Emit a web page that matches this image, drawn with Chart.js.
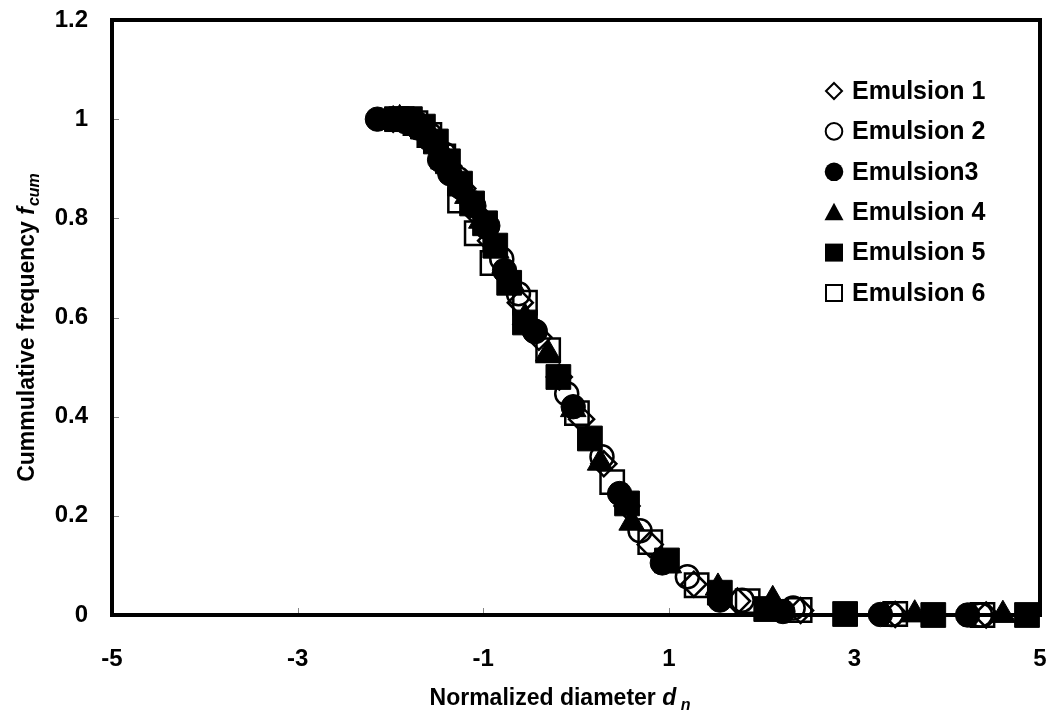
<!DOCTYPE html>
<html><head><meta charset="utf-8">
<script src="https://cdn.jsdelivr.net/npm/chart.js@4.4.1/dist/chart.umd.min.js"></script>
<style>html,body{margin:0;padding:0;background:#fff;}#wrap{width:1051px;height:720px;position:relative;}</style>
</head><body><div id="wrap"><canvas id="c" width="1051" height="720"></canvas></div>
<script>
// ---- data ----
const seriesNames = ['Emulsion 1', 'Emulsion 2', 'Emulsion3', 'Emulsion 4', 'Emulsion 5', 'Emulsion 6'];
const xTicks = [-5, -3, -1, 1, 3, 5];
const xTickLabels = ['-5', '-3', '-1', '1', '3', '5'];
const yTicks = [0, 0.2, 0.4, 0.6, 0.8, 1, 1.2];
const yTickLabels = ['0', '0.2', '0.4', '0.6', '0.8', '1', '1.2'];

const e1X = [-1.97,-1.82,-1.67,-1.52,-1.37,-1.22,-1.07,-0.92,-0.76,-0.60,-0.40,-0.18,0.06,0.30,0.55,0.80,1.27,1.74,2.42,3.44,4.42];
const e1Y = [1.000,0.995,0.978,0.945,0.905,0.860,0.810,0.755,0.690,0.630,0.560,0.480,0.395,0.305,0.220,0.142,0.062,0.028,0.009,0.001,0.000];

const e2X = [-1.87,-1.72,-1.57,-1.42,-1.27,-1.12,-0.96,-0.80,-0.62,-0.44,-0.10,0.28,0.69,1.20,1.79,2.34,3.40,4.36];
const e2Y = [1.000,0.992,0.968,0.930,0.880,0.832,0.782,0.718,0.648,0.572,0.446,0.319,0.170,0.077,0.030,0.014,0.001,0.000];

const e3X = [-2.14,-1.98,-1.84,-1.70,-1.58,-1.47,-1.36,-1.24,-1.10,-0.95,-0.77,-0.45,-0.03,0.47,0.93,1.55,2.23,3.28,4.22];
const e3Y = [1.000,1.000,0.995,0.982,0.960,0.918,0.890,0.862,0.825,0.785,0.695,0.573,0.420,0.245,0.105,0.030,0.007,0.001,0.000];

const e4X = [-1.90,-1.75,-1.60,-1.45,-1.31,-1.17,-1.02,-0.86,-0.70,-0.55,-0.30,-0.03,0.26,0.60,1.00,1.53,2.12,3.65,4.60];
const e4Y = [1.000,0.995,0.975,0.938,0.890,0.845,0.795,0.735,0.670,0.600,0.527,0.415,0.307,0.186,0.100,0.055,0.030,0.001,0.000];

const e5X = [-1.93,-1.79,-1.65,-1.51,-1.38,-1.25,-1.12,-0.98,-0.87,-0.72,-0.55,-0.19,0.15,0.55,0.98,1.55,2.05,2.90,3.85,4.86];
const e5Y = [1.000,1.000,0.985,0.955,0.915,0.870,0.830,0.790,0.745,0.670,0.590,0.480,0.356,0.225,0.110,0.045,0.012,0.002,0.000,0.000];

const e6X = [-1.88,-1.73,-1.58,-1.43,-1.25,-1.07,-0.90,-0.55,-0.30,0.01,0.39,0.80,1.30,1.85,2.41,3.44,4.38];
const e6Y = [1.000,0.992,0.968,0.925,0.836,0.770,0.710,0.630,0.534,0.407,0.268,0.147,0.060,0.028,0.010,0.002,0.000];

// ---- build ----
const FONT = '"Liberation Sans", Arial, Helvetica, sans-serif';
const seriesX = [e1X, e2X, e3X, e4X, e5X, e6X];
const seriesY = [e1Y, e2Y, e3Y, e4Y, e5Y, e6Y];
const styles = [
  {pointStyle: 'rectRot', radius: 12.5, fill: 'rgba(0,0,0,0)', bw: 2.5},
  {pointStyle: 'circle', radius: 11.5, fill: 'rgba(0,0,0,0)', bw: 2.5},
  {pointStyle: 'circle', radius: 12.2, fill: '#000', bw: 1},
  {pointStyle: 'triangle', radius: 14.8, fill: '#000', bw: 1},
  {pointStyle: 'rect', radius: 17.5, fill: '#000', bw: 1},
  {pointStyle: 'rect', radius: 16.5, fill: 'rgba(0,0,0,0)', bw: 2.5}
];
const datasets = seriesNames.map((name, i) => ({
  label: name,
  data: seriesX[i].map((x, j) => ({x: x, y: seriesY[i][j]})),
  showLine: false,
  pointStyle: styles[i].pointStyle,
  pointRadius: styles[i].radius,
  pointHoverRadius: styles[i].radius,
  pointBackgroundColor: styles[i].fill,
  pointBorderColor: '#000',
  pointBorderWidth: styles[i].bw,
  order: 6 - i,
  clip: false
}));

const framePlugin = {
  id: 'frame',
  beforeDatasetsDraw(chart) {
    const {ctx, chartArea: a, scales} = chart;
    ctx.save();
    ctx.strokeStyle = '#888';
    ctx.lineWidth = 1;
    scales.y.ticks.forEach(t => {
      const py = Math.round(scales.y.getPixelForValue(t.value)) + 0.5;
      ctx.beginPath(); ctx.moveTo(a.left, py); ctx.lineTo(a.left + 7, py); ctx.stroke();
    });
    scales.x.ticks.forEach(t => {
      const px = Math.round(scales.x.getPixelForValue(t.value)) + 0.5;
      ctx.beginPath(); ctx.moveTo(px, a.bottom); ctx.lineTo(px, a.bottom - 7); ctx.stroke();
    });
    ctx.strokeStyle = '#000';
    ctx.lineWidth = 4;
    ctx.strokeRect(a.left, a.top, a.right - a.left, a.bottom - a.top);
    ctx.restore();
  }
};

function drawMarker(ctx, kind, cx, cy) {
  ctx.beginPath();
  ctx.lineWidth = 2;
  ctx.strokeStyle = '#000';
  ctx.fillStyle = '#000';
  if (kind === 0) {
    const h = 8;
    ctx.moveTo(cx, cy - h); ctx.lineTo(cx + h, cy); ctx.lineTo(cx, cy + h); ctx.lineTo(cx - h, cy); ctx.closePath(); ctx.stroke();
  } else if (kind === 1) {
    ctx.arc(cx, cy, 8.3, 0, Math.PI * 2); ctx.stroke();
  } else if (kind === 2) {
    ctx.arc(cx, cy, 9.3, 0, Math.PI * 2); ctx.fill();
  } else if (kind === 3) {
    ctx.moveTo(cx, cy - 9.5); ctx.lineTo(cx + 9.5, cy + 8); ctx.lineTo(cx - 9.5, cy + 8); ctx.closePath(); ctx.fill();
  } else if (kind === 4) {
    ctx.rect(cx - 9, cy - 9, 18, 18); ctx.fill();
  } else {
    ctx.rect(cx - 8, cy - 8, 16, 16); ctx.stroke();
  }
}

const annoPlugin = {
  id: 'anno',
  afterDraw(chart) {
    const {ctx} = chart;
    ctx.save();
    ctx.font = 'bold 25px ' + FONT;
    ctx.textBaseline = 'middle';
    ctx.textAlign = 'left';
    seriesNames.forEach((name, i) => {
      const cy = 91 + i * 40.4;
      ctx.fillStyle = '#fff';
      ctx.fillRect(824, cy - 11, 22, 22);
      drawMarker(ctx, i, 834, cy);
      ctx.fillStyle = '#000';
      ctx.fillText(name, 852, cy + 1);
    });
    ctx.fillStyle = '#000';
    ctx.textBaseline = 'alphabetic';
    const f1 = 'bold 23px ' + FONT, f2 = 'italic bold 23px ' + FONT, f3 = 'italic bold 16px ' + FONT;
    const p1 = 'Normalized diameter ', p2 = 'd', p3 = ' n';
    ctx.font = f1; const w1 = ctx.measureText(p1).width;
    ctx.font = f2; const w2 = ctx.measureText(p2).width;
    ctx.font = f3; const w3 = ctx.measureText(p3).width;
    const x0 = 560 - (w1 + w2 + w3) / 2;
    const yb = 705;
    ctx.font = f1; ctx.fillText(p1, x0, yb);
    ctx.font = f2; ctx.fillText(p2, x0 + w1, yb);
    ctx.font = f3; ctx.fillText(p3, x0 + w1 + w2, yb + 5);
    ctx.translate(34, 328);
    ctx.rotate(-Math.PI / 2);
    const q1 = 'Cummulative frequency ', q2 = 'f', q3 = 'cum';
    ctx.font = f1; const v1 = ctx.measureText(q1).width;
    ctx.font = f2; const v2 = ctx.measureText(q2).width;
    ctx.font = f3; const v3 = ctx.measureText(q3).width;
    const s0 = -(v1 + v2 + v3) / 2;
    ctx.font = f1; ctx.fillText(q1, s0, 0);
    ctx.font = f2; ctx.fillText(q2, s0 + v1, 0);
    ctx.font = f3; ctx.fillText(q3, s0 + v1 + v2 + 1, 5);
    ctx.restore();
  }
};

function zeroPad(s) { s.paddingLeft = 0; s.paddingRight = 0; s.paddingTop = 0; s.paddingBottom = 0; }

new Chart(document.getElementById('c'), {
  type: 'scatter',
  data: {datasets: datasets},
  options: {
    responsive: false,
    animation: false,
    devicePixelRatio: 1,
    layout: {autoPadding: false, padding: {top: 20, right: 11, left: 0, bottom: 0}},
    plugins: {legend: {display: false}, tooltip: {enabled: false}},
    scales: {
      x: {
        type: 'linear', min: -5, max: 5,
        afterBuildTicks: s => { s.ticks = xTicks.map(v => ({value: v})); },
        afterFit: s => { s.height = 105; zeroPad(s); },
        grid: {display: false, drawTicks: false},
        border: {display: false},
        ticks: {color: '#000', font: {family: FONT, size: 24, weight: 'bold'}, padding: 30, maxRotation: 0,
          callback: (v) => { const k = xTicks.indexOf(v); return k >= 0 ? xTickLabels[k] : ''; }}
      },
      y: {
        type: 'linear', min: 0, max: 1.2,
        afterBuildTicks: s => { s.ticks = yTicks.map(v => ({value: v})); },
        afterFit: s => { s.width = 112; zeroPad(s); },
        grid: {display: false, drawTicks: false},
        border: {display: false},
        ticks: {color: '#000', font: {family: FONT, size: 24, weight: 'bold'}, padding: 24,
          callback: (v) => { const k = yTicks.findIndex(t => Math.abs(t - v) < 1e-9); return k >= 0 ? yTickLabels[k] : ''; }}
      }
    }
  },
  plugins: [framePlugin, annoPlugin]
});
</script></body></html>
